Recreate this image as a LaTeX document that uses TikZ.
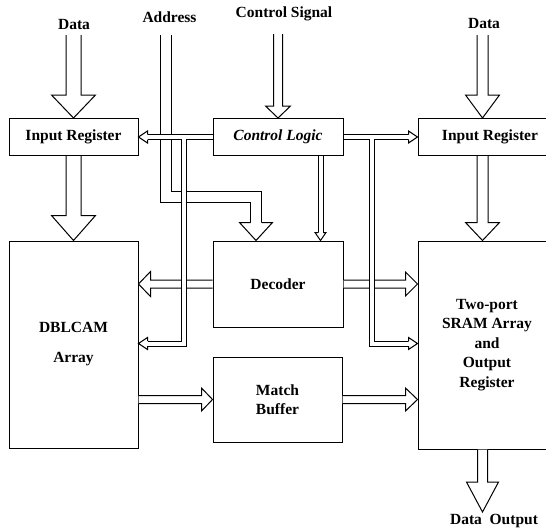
\documentclass[tikz,border=0pt]{standalone}
\usepackage{fontspec}
\setmainfont{Liberation Serif}
\usepackage{tikz}
\usetikzlibrary{calc}

% hollow arrow: start, tip, shaft half width, head half width, head length
\newcommand{\fatarrow}[5]{%
  \path (#1) coordinate (fa-s) (#2) coordinate (fa-t);
  \path ($(fa-t)!#5pt!(fa-s)$) coordinate (fa-b);
  \filldraw[hollow] ($(fa-s)!#3pt!90:(fa-t)$) -- ($(fa-b)!#3pt!90:(fa-t)$)
    -- ($(fa-b)!#4pt!90:(fa-t)$) -- (fa-t) -- ($(fa-b)!#4pt!-90:(fa-t)$)
    -- ($(fa-b)!#3pt!-90:(fa-t)$) -- ($(fa-s)!#3pt!-90:(fa-t)$);
}

\begin{document}
\begin{tikzpicture}[x=1pt, y=-1pt,
    block/.style={draw, line width=1pt, align=center, inner sep=0pt,
      font=\bfseries\fontsize{15.5}{19.5}\selectfont},
    lbl/.style={font=\bfseries\fontsize{15.5}{19.5}\selectfont, inner sep=2pt},
    hollow/.style={draw, fill=white, line width=1pt, line join=miter},
    cbus/.style={double, double distance=4pt, line width=1pt, line join=miter},
    abus/.style={double, double distance=10pt, line width=1pt, line join=miter}
]
    \useasboundingbox (0,0) rectangle (546,531);
    \clip (0,0) rectangle (546,531);

    % Blocks
    \node[block, minimum width=129pt, minimum height=37pt] (inL) at (73.5,137) {Input Register};
    \node[block, minimum width=130pt, minimum height=37pt] (ctrl) at (278,137) {\itshape Control Logic};
    \node[block, minimum width=144pt, minimum height=37pt] (inR) at (490,137) {Input Register};
    \node[block, minimum width=129pt, minimum height=207pt] (cam) at (73.5,344.5) {DBLCAM\\[10.5pt]Array};
    \node[block, minimum width=130pt, minimum height=86pt] (dec) at (278,284) {Decoder};
    \node[block, minimum width=129pt, minimum height=85pt] (mbuf) at (277.5,399.5) {Match\\Buffer};
    \node[block, minimum width=138pt, minimum height=208pt] (sram) at (487,345) {Two-port\\SRAM Array\\and\\Output\\Register};

    % Labels
    \node[lbl] (dataL) at (74,24) {Data};
    \node[lbl] (addrT) at (169.5,17) {Address};
    \node[lbl] (ctrlT) at (284,14) {Control Signal};
    \node[lbl] (dataR) at (484,23) {Data};
    \node[lbl] (dataO) at (494,521) {Data\ \ Output};

    \coordinate (dinL) at (73.5,35);
    \coordinate (addr) at (165.5,35);
    \coordinate (csig) at (278,34);
    \coordinate (dinR) at (482.5,35);
    \coordinate (brL) at (184,137);
    \coordinate (brR) at (371.5,137);
    \coordinate (adec) at ($(dec.north)+(-22,0)$);

    % Data paths
    \fatarrow{dinL}{inL.north}{7.5}{22}{23}
    \fatarrow{inL.south}{cam.north}{7.5}{22}{25}
    \fatarrow{csig}{ctrl.north}{4.5}{12.5}{12}
    \fatarrow{dinR}{inR.north -| dinR}{5.5}{17}{23}
    \fatarrow{inR.south -| dinR}{sram.north -| dinR}{5.5}{17}{18}
    \fatarrow{sram.south -| dinR}{dataO.north -| dinR}{5}{16}{30}
    \fatarrow{dec.west}{cam.east |- dec.west}{4}{12.5}{12}
    \fatarrow{dec.east}{sram.west |- dec.east}{4}{12}{12}
    \fatarrow{cam.east |- mbuf.west}{mbuf.west}{4}{11.5}{11}
    \fatarrow{mbuf.east}{sram.west |- mbuf.east}{4}{11.5}{12}

    % Address bus
    \draw[abus] (addr) |- ($(adec)+(0,-43.5)$) -- ($(adec)+(0,-18)$);
    \fatarrow{$(adec)+(0,-18)$}{adec}{5.5}{16.5}{18}

    % Control buses
    \draw[cbus] (ctrl.west) -- ($(inL.east)+(9,0)$)
        (brL) |- ($(cam.east)+(9,-1)$);
    \fatarrow{$(inL.east)+(9,0)$}{inL.east}{2.5}{6}{9}
    \fatarrow{$(cam.east)+(9,-1)$}{$(cam.east)+(0,-1)$}{2.5}{6}{9}

    \draw[cbus] (ctrl.east) -- ($(inR.west)+(-9,0)$)
        (brR) |- ($(sram.west)+(-9,-1.5)$);
    \fatarrow{$(inR.west)+(-9,0)$}{inR.west}{2.5}{6}{9}
    \fatarrow{$(sram.west)+(-9,-1.5)$}{$(sram.west)+(0,-1.5)$}{2.5}{6}{9}

    \draw[cbus] ($(ctrl.south)+(42.5,0)$) -- ($(dec.north)+(42.5,-8)$);
    \fatarrow{$(dec.north)+(42.5,-8)$}{$(dec.north)+(42.5,0)$}{2.5}{5.5}{8}
\end{tikzpicture}
\end{document}
